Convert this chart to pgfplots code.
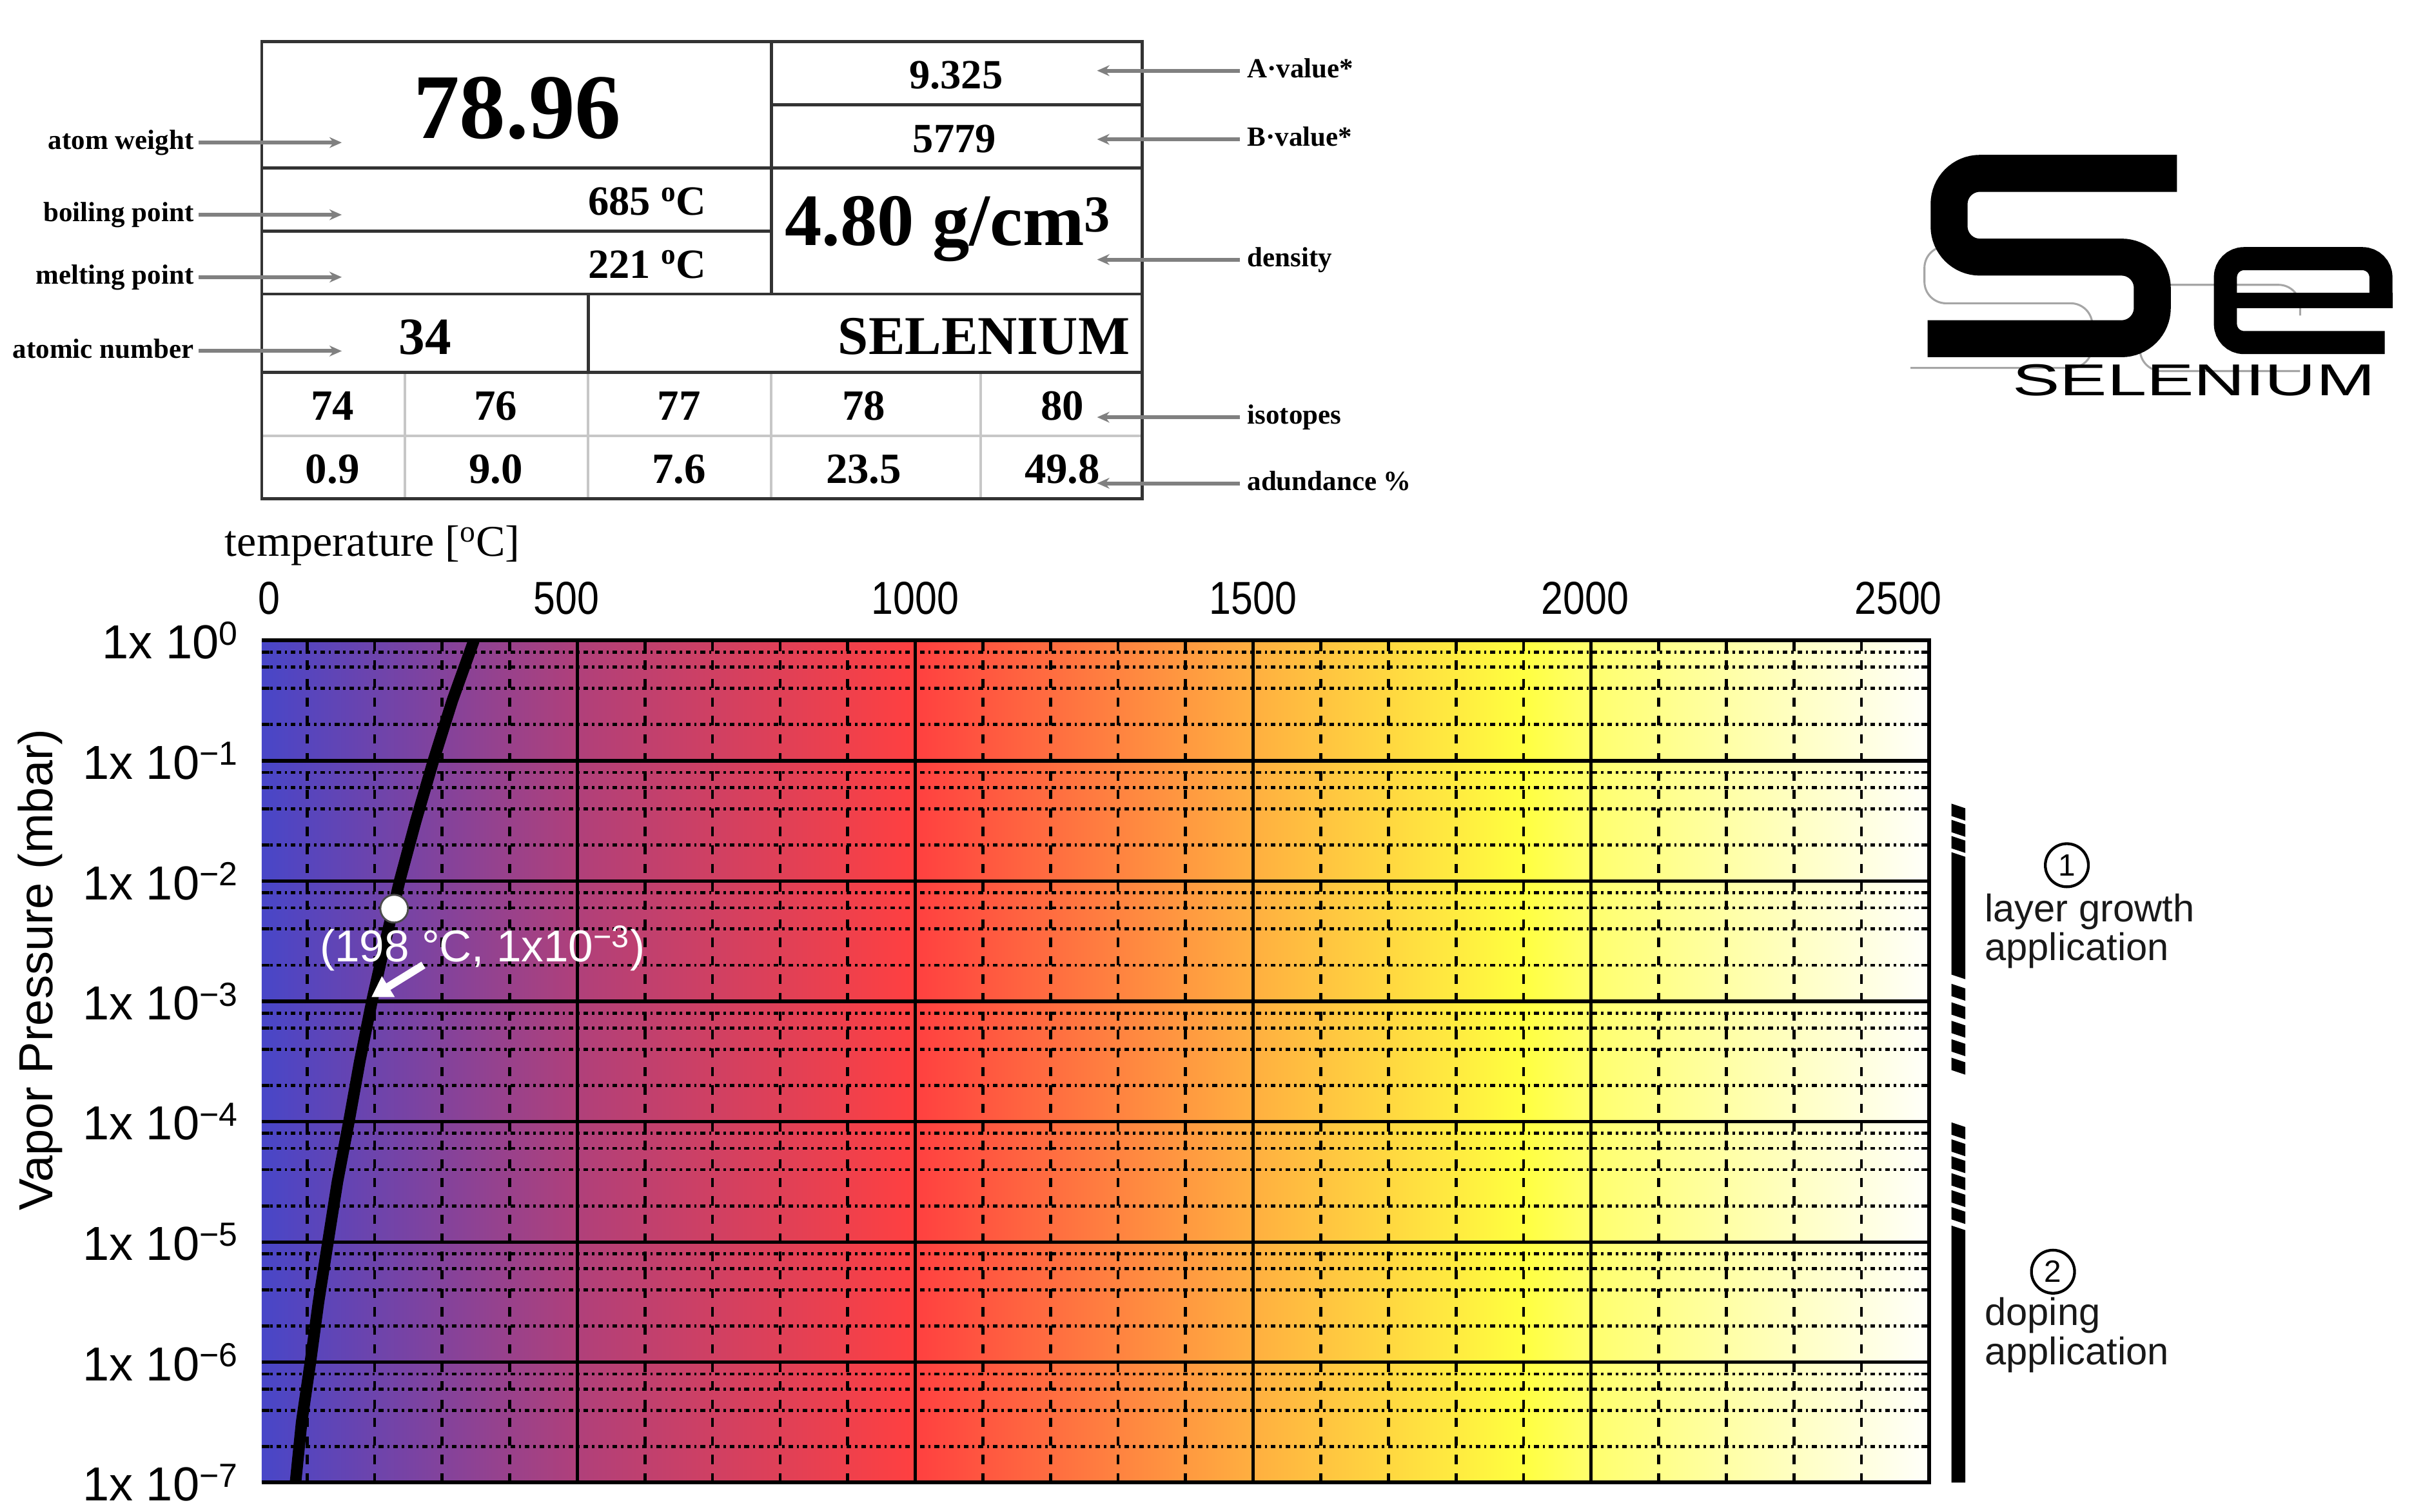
\documentclass[border=0pt]{standalone}
\usepackage{fontspec}
\setmainfont{Liberation Serif}
\newfontfamily\arial{Liberation Sans}
\usepackage{graphicx}
\usepackage{pgfplots}
\pgfplotsset{compat=1.18}
\usetikzlibrary{arrows.meta}

\newcommand{\fs}[1]{\fontsize{#1}{#1}\selectfont}
\newcommand{\sx}[1]{\scalebox{0.85}[1]{#1}}

\definecolor{c0}{RGB}{72,70,200}
\definecolor{c1}{RGB}{176,64,122}
\definecolor{c2}{RGB}{255,64,64}
\definecolor{c3}{RGB}{255,175,64}
\definecolor{c4}{RGB}{255,255,64}
\definecolor{c5}{RGB}{255,255,110}
\definecolor{c6}{RGB}{255,255,250}
\pgfdeclarehorizontalshading{vpgrad}{100bp}{color(0bp)=(c0); color(25bp)=(c0); color(34.5bp)=(c1); color(44.6bp)=(c2); color(54.7bp)=(c3); color(62.8bp)=(c4); color(64.9bp)=(c5); color(75bp)=(c6); color(100bp)=(c6)}

\begin{document}
\begin{tikzpicture}
\begin{scope}[x=1pt, y=1pt, every node/.style={inner sep=0pt}]
\path (0,0) rectangle (1568,-982);

% ---- element table ----
\draw[line width=1.5pt, black!22] (171,-283) -- (741,-283)
  (263,-242) -- (263,-323) (382,-242) -- (382,-323)
  (501,-242) -- (501,-323) (637,-242) -- (637,-323);
\begin{scope}[line width=2pt, draw=black!80]
\draw (170,-27) rectangle (742,-324);
\draw (501,-27) -- (501,-191);
\draw (501,-68) -- (742,-68);
\draw (170,-109) -- (742,-109);
\draw (170,-150) -- (501,-150);
\draw (170,-191) -- (742,-191);
\draw (382,-191) -- (382,-242);
\draw (170,-242) -- (742,-242);
\end{scope}

\node[anchor=base, font=\bfseries\fs{60}] at (336,-90) {78.96};
\node[anchor=base, font=\bfseries\fs{27}] at (621,-57.6) {9.325};
\node[anchor=base, font=\bfseries\fs{27}] at (620,-99) {5779};
\node[anchor=base east, font=\bfseries\fs{27}] at (459,-139.7) {685 \textsuperscript{o}C};
\node[anchor=base east, font=\bfseries\fs{27}] at (459,-180.6) {221 \textsuperscript{o}C};
\node[anchor=base west, font=\bfseries\fs{48}] at (509.5,-159.5) {4.80 g/cm\textsuperscript{3}};
\node[anchor=base, font=\bfseries\fs{34}] at (276,-230) {34};
\node[anchor=base east, font=\bfseries\fs{35.5}] at (734,-230) {SELENIUM};
\foreach \x/\a/\b in {216/74/0.9, 322/76/9.0, 441/77/7.6, 561/78/23.5, 690/80/49.8} {
  \node[anchor=base, font=\bfseries\fs{28}] at (\x,-273) {\a};
  \node[anchor=base, font=\bfseries\fs{28}] at (\x,-314) {\b};
}

% left labels
\foreach \y/\t in {92.6/atom weight, 139.5/boiling point, 180/melting point, 228/atomic number} {
  \node[anchor=base east, font=\bfseries\fs{18}] at (126,{-(\y+4.5)}) {\t};
  \draw[black!50, line width=2.5pt, -{Stealth[length=8pt, width=7pt]}] (129,-\y) -- (222,-\y);
}
% right labels
\foreach \y/\t in {45.9/A·value*, 90.5/B·value*, 168.6/density, 271/isotopes, 313.9/adundance \%} {
  \node[anchor=base west, font=\bfseries\fs{18}] at (810,{-(\y+4.5)}) {\t};
  \draw[black!50, line width=2.5pt, -{Stealth[length=8pt, width=7pt]}] (805.5,-\y) -- (712.6,-\y);
}

% ---- logo ----
\begin{scope}[line width=1.3pt, draw=black!35, double=white, double distance=15pt, rounded corners=14pt]
\draw (1368,-160) -- (1250,-160) -- (1250,-197) -- (1359,-197) -- (1359,-239) -- (1241,-239);
\draw (1494,-205) -- (1494,-185) -- (1390,-185) -- (1390,-241) -- (1494,-241);
\end{scope}
\draw[line width=24pt, rounded corners=20pt] (1414,-112.6) -- (1266,-112.6) -- (1266,-167) -- (1398,-167) -- (1398,-220) -- (1252,-220);
\draw[line width=15pt, rounded corners=12pt] (1546.5,-195) -- (1546.5,-168) -- (1445.5,-168) -- (1445.5,-222.5) -- (1549,-222.5);
\draw[line width=10pt] (1445.5,-195) -- (1554,-195);
\node[anchor=base west, font=\arial\fs{29}] at (1307,-257) {\scalebox{1.59}[1]{SELENIUM}};
\end{scope}

% ---- vapor pressure chart ----
\begin{axis}[
  at={(170pt,-963pt)}, anchor=south west,
  scale only axis, width=1083pt, height=547pt,
  xmin=33, xmax=2500,
  ymode=log, ymin=1e-7, ymax=1,
  clip=false,
  axis background/.style={shade, shading=vpgrad},
  axis line style={draw=none},
  xtick={500,1000,1500,2000,2500},
  xticklabels={\sx{500}\kern14pt,\sx{1000},\sx{1500},\sx{2000}\kern8pt,\sx{2500}\kern40pt},
  extra x ticks={33}, extra x tick labels={\kern10pt\sx{0}},
  extra x tick style={grid=none, major tick length=0pt},
  minor xtick={100,200,...,2400},
  ytick={1e-7,1e-6,1e-5,1e-4,1e-3,1e-2,1e-1,1},
  yticklabels={1x 10\textsuperscript{−7},1x 10\textsuperscript{−6},1x 10\textsuperscript{−5},1x 10\textsuperscript{−4},1x 10\textsuperscript{−3},1x 10\textsuperscript{−2},1x 10\textsuperscript{−1},1x 10\textsuperscript{0}},
  minor ytick={2e-7,4e-7,6e-7,8e-7,2e-6,4e-6,6e-6,8e-6,2e-5,4e-5,6e-5,8e-5,2e-4,4e-4,6e-4,8e-4,2e-3,4e-3,6e-3,8e-3,2e-2,4e-2,6e-2,8e-2,0.2,0.4,0.6,0.8},
  xticklabel pos=upper,
  tick pos=both, tick align=inside,
  major tick length=7pt, minor tick length=5pt,
  tick style={black, line width=2pt},
  tick label style={font=\arial\fs{31}, inner sep=0pt},
  xticklabel style={anchor=base, yshift=17pt, font=\arial\fs{30}},
  yticklabel style={anchor=east, xshift=-15pt},
  grid=both,
  major grid style={black, line width=2.2pt},
  minor x grid style={black, line width=2pt, dash pattern=on 6pt off 6pt},
  minor y grid style={black, line width=2pt, dash pattern=on 3pt off 2.5pt on 1.5pt off 2.5pt},
  xlabel={temperature [\textsuperscript{o}C]},
  xlabel style={at={(axis description cs:-0.0222,1.1005)}, anchor=base west, font=\fs{28.5}, inner sep=0pt},
  ylabel={Vapor Pressure (mbar)},
  ylabel style={at={(axis description cs:-0.133,0.609)}, anchor=center, font=\arial\fs{31}},
]
\addplot[black, line width=7.5pt, line join=round] coordinates {
  (83,1e-7) (92,3.16e-7) (105,1e-6) (117,3.16e-6) (131,1e-5) (145,3.16e-5)
  (162,1e-4) (178,3.16e-4) (196,1e-3) (216,3.16e-3) (237,1e-2) (261,3.16e-2)
  (287,1e-1) (315,3.16e-1) (347,1)
};
\addplot[only marks, mark=*, mark size=9pt, mark options={fill=white, draw=black!70, line width=1.2pt}] coordinates {(229,0.0059)};
\draw[black, line width=2.5pt] (rel axis cs:0,1) -- (rel axis cs:1,1) -- (rel axis cs:1,0) -- (rel axis cs:0,0);
\end{axis}

\begin{scope}[x=1pt, y=1pt, every node/.style={inner sep=0pt}]
% annotation of the marked point
\node[anchor=base west, font=\arial\fs{29}, text=white] at (207.7,-624.6) {(198 °C, 1x10\textsuperscript{−3})};
\draw[white, line width=5pt, -{Triangle[length=13pt, width=15pt]}] (275,-626.8) -- (241.2,-647.7);

% application ranges
\foreach \y in {522,532.5,543, 639,651,663,675,687, 729,740,751,762,773,784} {
  \fill ({1267.5},{-\y}) -- ({1276.5},{-(\y+3)}) -- ({1276.5},{-(\y+11)}) -- ({1267.5},{-(\y+8)}) -- cycle;
}
\fill (1267.5,-553.5) -- (1276.5,-556.5) -- (1276.5,-636) -- (1267.5,-633) -- cycle;
\fill (1267.5,-796) -- (1276.5,-799) -- (1276.5,-963) -- (1267.5,-963) -- cycle;

\node[draw, circle, line width=1.8pt, minimum size=28pt, font=\arial\fs{20}] at (1342.5,-562) {1};
\node[anchor=base west, font=\arial\fs{25}, text=black!90] at (1289,-598.5) {layer growth};
\node[anchor=base west, font=\arial\fs{25}, text=black!90] at (1289,-624) {application};
\node[draw, circle, line width=1.8pt, minimum size=28pt, font=\arial\fs{20}] at (1333.5,-826) {2};
\node[anchor=base west, font=\arial\fs{25}, text=black!90] at (1289,-861) {doping};
\node[anchor=base west, font=\arial\fs{25}, text=black!90] at (1289,-886.5) {application};
\end{scope}
\end{tikzpicture}
\end{document}
